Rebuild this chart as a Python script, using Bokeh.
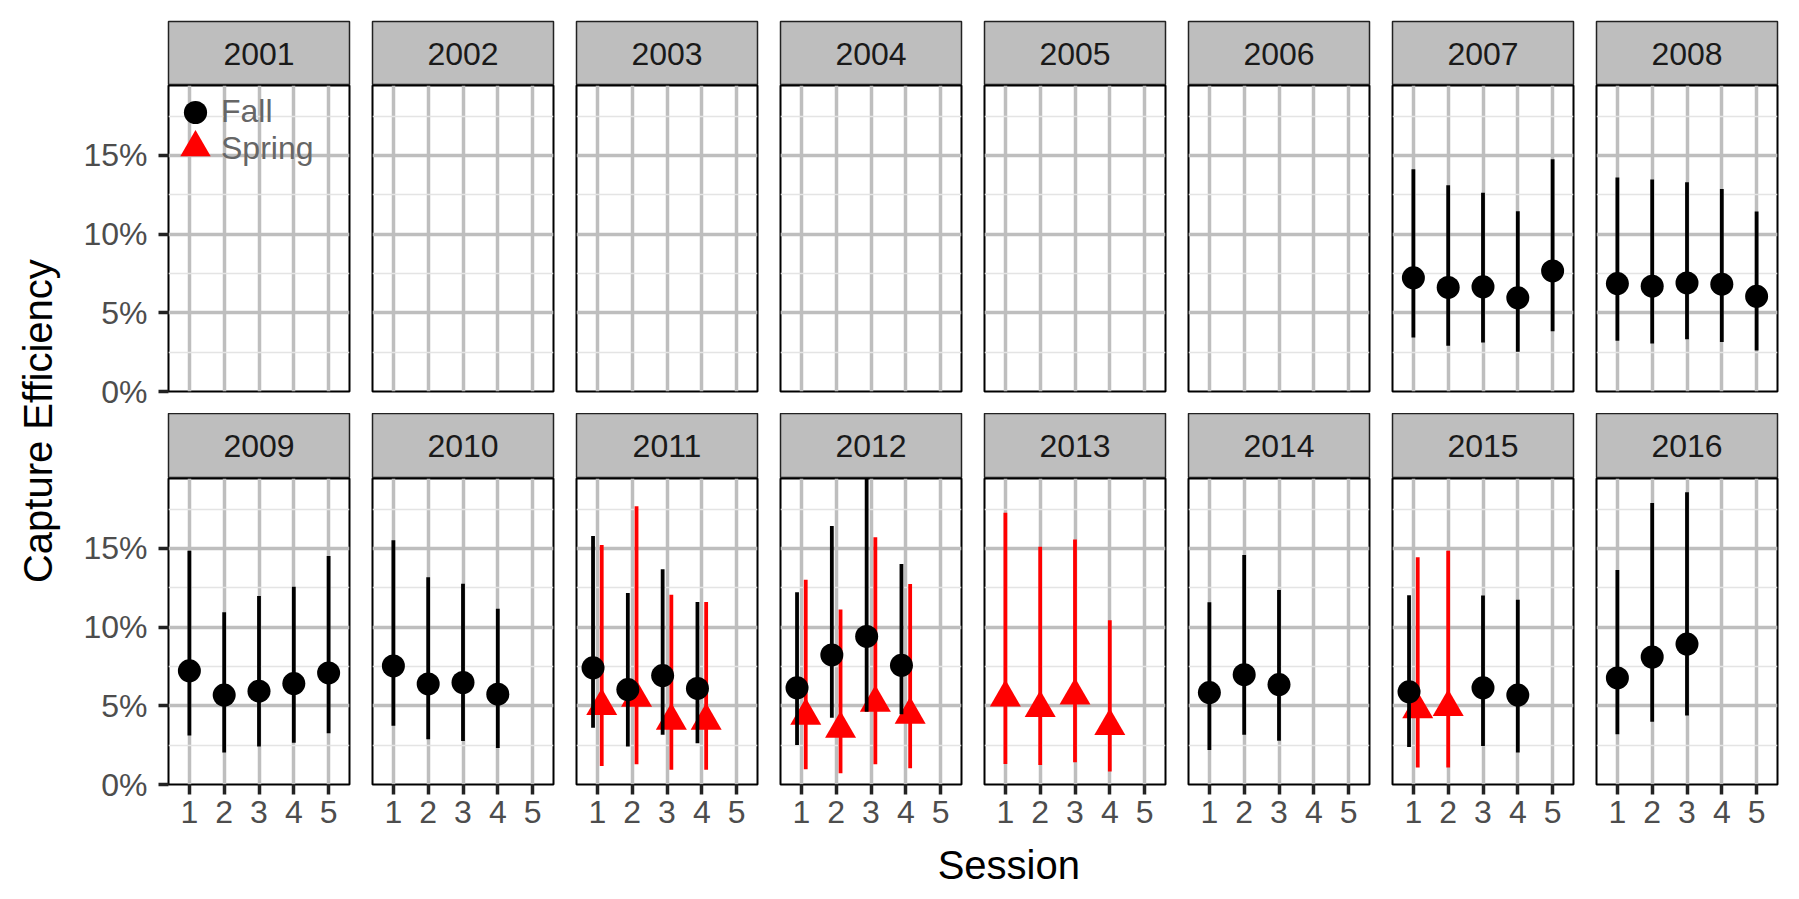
from bokeh.plotting import figure
from bokeh.models import (ColumnDataSource, FixedTicker, LinearAxis, Grid, NumeralTickFormatter,
                          Range1d, Legend, LegendItem, Label, GridBox)
from bokeh.embed import file_html
from bokeh.resources import INLINE
from bokeh.core.properties import value

# ---------------- data ----------------
years = [2001, 2002, 2003, 2004, 2005, 2006, 2007, 2008,
         2009, 2010, 2011, 2012, 2013, 2014, 2015, 2016]
sessions = [1, 2, 3, 4, 5]
y_ticks = [0.0, 0.05, 0.10, 0.15]
y_minor = [0.025, 0.075, 0.125, 0.175]
season_labels = ["Fall", "Spring"]

# Fall estimates (percent)
fall_year = [2007] * 5 + [2008] * 5 + [2009] * 5 + [2010] * 4 + [2011] * 4 + [2012] * 4 + [2014] * 3 + [2015] * 3 + [2016] * 3
fall_session = [1, 2, 3, 4, 5,
                1, 2, 3, 4, 5,
                1, 2, 3, 4, 5,
                1, 2, 3, 4,
                1, 2, 3, 4,
                1, 2, 3, 4,
                1, 2, 3,
                1, 3, 4,
                1, 2, 3]
fall_est = [7.22, 6.61, 6.65, 5.95, 7.66,
            6.86, 6.69, 6.90, 6.82, 6.05,
            7.22, 5.68, 5.93, 6.41, 7.09,
            7.53, 6.39, 6.48, 5.74,
            7.41, 6.03, 6.92, 6.10,
            6.14, 8.23, 9.41, 7.57,
            5.84, 6.98, 6.35,
            5.89, 6.14, 5.68,
            6.77, 8.10, 8.92]
fall_lo = [3.43, 2.90, 3.11, 2.52, 3.83,
           3.22, 3.05, 3.32, 3.15, 2.60,
           3.12, 2.03, 2.41, 2.66, 3.25,
           3.73, 2.87, 2.76, 2.32,
           3.61, 2.41, 3.16, 2.62,
           2.51, 4.24, 4.62, 4.47,
           2.19, 3.16, 2.78,
           2.38, 2.45, 2.03,
           3.19, 3.99, 4.39]
fall_hi = [14.12, 13.10, 12.62, 11.45, 14.76,
           13.60, 13.47, 13.30, 12.87, 11.43,
           14.85, 10.95, 11.98, 12.57, 14.51,
           15.51, 13.16, 12.76, 11.16,
           15.78, 12.17, 13.67, 11.60,
           12.22, 16.43, 20.50, 14.01,
           11.58, 14.58, 12.36,
           12.03, 12.00, 11.73,
           13.63, 17.89, 18.57]

# Spring estimates (percent)
spring_year = [2011] * 4 + [2012] * 4 + [2013] * 4 + [2015] * 2
spring_session = [1, 2, 3, 4,
                  1, 2, 3, 4,
                  1, 2, 3, 4,
                  1, 2]
spring_est = [4.98, 5.50, 4.05, 4.05,
              4.37, 3.54, 5.19, 4.43,
              5.53, 4.85, 5.65, 3.71,
              4.77, 4.92]
spring_lo = [1.18, 1.29, 0.93, 0.93,
             0.97, 0.72, 1.29, 1.03,
             1.31, 1.24, 1.41, 0.82,
             1.08, 1.08]
spring_hi = [15.21, 17.68, 12.05, 11.60,
             13.00, 11.12, 15.70, 12.74,
             17.26, 15.10, 15.57, 10.44,
             14.43, 14.85]

# ---------------- styling constants ----------------
FONT = "Liberation Sans"
GRID_MAJOR = "#BEBEBE"
GRID_MINOR = "#E4E4E4"
STRIP_FILL = "#BEBEBE"
FRAME_W = 181
FRAME_H = 306
DODGE = 0.125
NAN = float("nan")


def dodged(yrs, sess, other_yrs, other_sess, sign):
    both = set(zip(other_yrs, other_sess))
    return [s + sign * DODGE if (y, s) in both else s for y, s in zip(yrs, sess)]


fall_x = dodged(fall_year, fall_session, spring_year, spring_session, -1)
spring_x = dodged(spring_year, spring_session, fall_year, fall_session, +1)


def subset(year, yrs, xs, est, lo, hi):
    idx = [i for i, y in enumerate(yrs) if y == year]
    return ColumnDataSource(dict(
        x=[xs[i] for i in idx],
        est=[est[i] / 100 for i in idx],
        lo=[lo[i] / 100 for i in idx],
        hi=[hi[i] / 100 for i in idx],
    ))


def borders(col):
    left = 98 if col == 0 else 12
    right = 22 if col == 7 else 11
    return left, right


def clear_grids(p):
    p.center = [c for c in p.center if not isinstance(c, Grid)]


def make_strip(year, row, col):
    ml, mr = borders(col)
    s = figure(frame_width=FRAME_W, frame_height=64 if row == 0 else 65,
               x_range=Range1d(0, 1), y_range=Range1d(0, 1),
               x_axis_location=None, y_axis_location=None,
               toolbar_location=None, tools="", output_backend="svg",
               min_border_left=ml, min_border_right=mr,
               min_border_top=21 if row == 0 else 0, min_border_bottom=0,
               background_fill_color=STRIP_FILL, border_fill_color="white",
               outline_line_color="#222222", outline_line_width=1.5)
    clear_grids(s)
    s.text(x=[0.5], y=[0.5], text=[str(year)], text_align="center", text_baseline="middle",
           text_font=value(FONT), text_font_size=value("32px"), text_color="#1A1A1A")
    return s


def add_legend(p):
    # legend-only renderers (NaN data, nothing drawn in the panel)
    rf = p.scatter(x=[NAN], y=[NAN], marker="circle", size=23,
                   fill_color="black", line_color="black", line_width=0)
    rs = p.scatter(x=[NAN], y=[NAN], marker="triangle", size=31,
                   fill_color="#FF0000", line_color="#FF0000", line_width=0)
    rt = p.scatter(x=[NAN], y=[NAN], marker="circle", size=1,
                   fill_alpha=0, line_alpha=0)
    base = dict(padding=0, spacing=0, margin=0, border_line_color=None,
                background_fill_alpha=0, label_text_font=FONT,
                label_text_font_size="32px", label_text_color="#666666",
                label_text_baseline="middle", label_standoff=0)
    # key glyphs
    key_f = Legend(items=[LegendItem(label=" ", renderers=[rf])],
                   location=(-2, 250), glyph_width=58, glyph_height=58, **base)
    key_s = Legend(items=[LegendItem(label=" ", renderers=[rs])],
                   location=(-11, 206), glyph_width=76, glyph_height=76, **base)
    # key labels
    labels = Legend(items=[LegendItem(label=season_labels[0], renderers=[rt]),
                           LegendItem(label=season_labels[1], renderers=[rt])],
                    location=(3, 224), glyph_width=50, glyph_height=37,
                    label_height=37, **base)
    p.add_layout(key_f)
    p.add_layout(key_s)
    p.add_layout(labels)


def make_panel(year, row, col):
    ml, mr = borders(col)
    p = figure(frame_width=FRAME_W, frame_height=FRAME_H,
               x_range=Range1d(0.4, 5.6), y_range=Range1d(0, 0.1944),
               x_axis_location=None, y_axis_location=None,
               toolbar_location=None, tools="", output_backend="svg",
               min_border_left=ml, min_border_right=mr,
               min_border_top=0, min_border_bottom=22 if row == 0 else 56,
               background_fill_color="white", border_fill_color="white",
               outline_line_color="black", outline_line_width=2)
    clear_grids(p)
    xg = Grid(dimension=0, ticker=FixedTicker(ticks=sessions),
              grid_line_color=GRID_MAJOR, grid_line_width=3.5)
    yg = Grid(dimension=1, ticker=FixedTicker(ticks=y_ticks, minor_ticks=y_minor),
              grid_line_color=GRID_MAJOR, grid_line_width=3.3,
              minor_grid_line_color=GRID_MINOR, minor_grid_line_width=1.7)
    p.add_layout(xg)
    p.add_layout(yg)

    if col == 0:
        ya = LinearAxis(ticker=FixedTicker(ticks=y_ticks, minor_ticks=y_minor),
                        formatter=NumeralTickFormatter(format="0%"),
                        axis_line_color=None, minor_tick_line_color=None,
                        major_tick_out=10, major_tick_in=0,
                        major_tick_line_width=3.5, major_tick_line_color="#222222",
                        major_label_standoff=11,
                        major_label_text_font=FONT, major_label_text_font_size="32px",
                        major_label_text_color="#4D4D4D")
        p.add_layout(ya, "left")
    if row == 1:
        xa = LinearAxis(ticker=FixedTicker(ticks=sessions),
                        axis_line_color=None, minor_tick_line_color=None,
                        major_tick_out=10, major_tick_in=0,
                        major_tick_line_width=3.5, major_tick_line_color="#222222",
                        major_label_standoff=6,
                        major_label_text_font=FONT, major_label_text_font_size="32px",
                        major_label_text_color="#4D4D4D")
        p.add_layout(xa, "below")

    sp = subset(year, spring_year, spring_x, spring_est, spring_lo, spring_hi)
    fa = subset(year, fall_year, fall_x, fall_est, fall_lo, fall_hi)
    p.segment(x0="x", y0="lo", x1="x", y1="hi", source=sp, line_color="#FF0000", line_width=3.8)
    p.scatter(x="x", y="est", source=sp, marker="triangle", size=31,
              fill_color="#FF0000", line_color="#FF0000", line_width=0)
    p.segment(x0="x", y0="lo", x1="x", y1="hi", source=fa, line_color="black", line_width=3.8)
    p.scatter(x="x", y="est", source=fa, marker="circle", size=23,
              fill_color="black", line_color="black", line_width=0)

    if year == years[0]:
        add_legend(p)
    return p


children = []
for i, yr in enumerate(years):
    r, c = divmod(i, 8)
    children.append((make_strip(yr, r, c), 2 * r, c + 1))
    children.append((make_panel(yr, r, c), 2 * r + 1, c + 1))

# y-axis title column
ytitle = figure(width=70, height=840, x_range=Range1d(0, 70), y_range=Range1d(0, 840),
                x_axis_location=None, y_axis_location=None, toolbar_location=None, tools="",
                output_backend="svg", min_border=0, outline_line_color=None)
clear_grids(ytitle)
ytitle.add_layout(Label(x=37, y=400, text="Capture Efficiency", angle=90, angle_units="deg",
                        text_align="center", text_baseline="middle", text_font=FONT,
                        text_font_size="40px", text_color="black"))
children.append((ytitle, 0, 0, 4, 1))

# x-axis title row
xtitle = figure(width=1729, height=59, x_range=Range1d(0, 1729), y_range=Range1d(0, 59),
                x_axis_location=None, y_axis_location=None, toolbar_location=None, tools="",
                output_backend="svg", min_border=0, outline_line_color=None)
clear_grids(xtitle)
xtitle.add_layout(Label(x=903, y=35, text="Session", text_align="center", text_baseline="middle",
                        text_font=FONT, text_font_size="40px", text_color="black"))
children.append((xtitle, 4, 1, 1, 8))

layout = GridBox(children=children, spacing=0)

open("out.html", "w").write(file_html(layout, INLINE))
